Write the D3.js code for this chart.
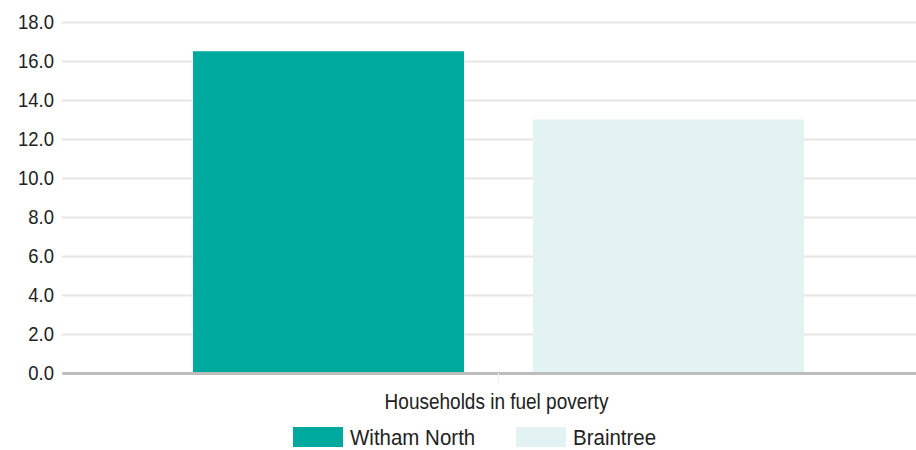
<!DOCTYPE html>
<html>
<head>
<meta charset="utf-8">
<script src="https://cdn.jsdelivr.net/npm/d3@7"></script>
<style>
  body { margin: 0; background: #fff; }
  text { font-family: "Liberation Sans", Arial, sans-serif; fill: #222; }
</style>
</head>
<body>
<div id="chart"></div>
<script>
const categories = ["Households in fuel poverty"];
const seriesNames = ["Witham North", "Braintree"];
const seriesValues = [[16.5], [13.0]];
const yTicks = [0, 2, 4, 6, 8, 10, 12, 14, 16, 18];
const colours = ["#00a99d", "#e3f2f2"];

const width = 916, height = 450;
const margin = {top: 22, right: -19, bottom: 77, left: 62};

const svg = d3.select("#chart")
  .append("svg")
    .attr("width", width)
    .attr("height", height);

const x0 = d3.scaleBand()
    .domain(categories)
    .range([margin.left, width - margin.right])
    .paddingOuter(0.2144)
    .paddingInner(0);

const x1 = d3.scaleBand()
    .domain(seriesNames)
    .range([0, x0.bandwidth()])
    .paddingInner(0.203);

const y = d3.scaleLinear()
    .domain([0, 18])
    .range([height - margin.bottom, margin.top]);

// gridlines + tick labels
const yAxis = svg.append("g")
    .attr("transform", `translate(${margin.left},0)`)
    .call(d3.axisLeft(y)
      .tickValues(yTicks)
      .tickSize(-(width - margin.left - margin.right))
      .tickPadding(8)
      .tickFormat(d3.format(".1f")));
yAxis.select(".domain").remove();
yAxis.selectAll(".tick line").attr("stroke", "#e6e6e6").attr("stroke-width", 2);
yAxis.selectAll(".tick text")
    .style("font-size", "18.5px")
    .attr("fill", "#222")
    .attr("transform", "scale(1,1.12)");

// bars
svg.append("g")
  .selectAll("g")
  .data(categories)
  .join("g")
    .attr("transform", d => `translate(${x0(d)},0)`)
  .selectAll("rect")
  .data((d, i) => seriesNames.map((s, j) => ({name: s, value: seriesValues[j][i]})))
  .join("rect")
    .attr("x", d => x1(d.name))
    .attr("y", d => y(d.value))
    .attr("width", x1.bandwidth())
    .attr("height", d => y(0) - y(d.value))
    .attr("fill", (d, i) => colours[i]);

// baseline + category axis
const xAxis = svg.append("g")
    .attr("transform", `translate(0,${y(0)})`)
    .call(d3.axisBottom(x0).tickSize(10).tickSizeOuter(0).tickPadding(7));
xAxis.select(".domain").attr("stroke", "#bdbdbd").attr("stroke-width", 3);
xAxis.selectAll(".tick line").attr("stroke", "#f0f0f0");
xAxis.selectAll(".tick text")
    .style("font-size", "19px")
    .attr("fill", "#222")
    .attr("transform", "translate(-2,0) scale(1,1.18)");

// legend
const legend = svg.append("g")
    .attr("transform", "translate(293,427)");
const item = legend.selectAll("g")
  .data(seriesNames)
  .join("g")
    .attr("transform", (d, i) => `translate(${i * 223},0)`);
item.append("rect")
    .attr("width", 50)
    .attr("height", 20)
    .attr("fill", (d, i) => colours[i]);
item.append("text")
    .attr("transform", "translate(57,17.5) scale(1,1.12)")
    .style("font-size", "20.5px")
    .text(d => d);
</script>
</body>
</html>
